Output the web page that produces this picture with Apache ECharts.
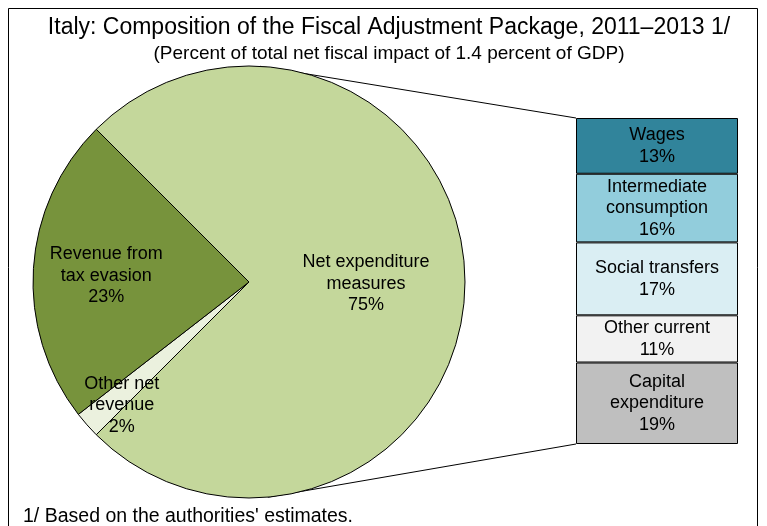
<!DOCTYPE html>
<html>
<head>
<meta charset="utf-8">
<script src="https://cdn.jsdelivr.net/npm/echarts@6/dist/echarts.min.js"></script>
<style>
  html, body { margin: 0; padding: 0; background: #fff; }
  #chart { width: 767px; height: 526px; }
</style>
</head>
<body>
<div id="chart"></div>
<script>
// Main pie: composition of the package (percent of total net fiscal impact)
const pieNames = ['Net expenditure\nmeasures', 'Other net\nrevenue', 'Revenue from\ntax evasion'];
const pieValues = [75, 2, 23];
const pieColors = ['#c4d79b', '#ebf1de', '#77933c'];

// Breakdown of net expenditure measures
const barNames = ['Wages', 'Intermediate\nconsumption', 'Social transfers', 'Other current', 'Capital\nexpenditure'];
const barValues = [13, 16, 17, 11, 19];
const barColors = ['#31849b', '#92cddc', '#daeef3', '#f2f2f2', '#bfbfbf'];

const FONT = '"Liberation Sans", Arial, sans-serif';
const LABEL_SIZE = 18;

// Layout constants
const cx = 249, cy = 282, R = 216;
const box = { left: 576, top: 118, width: 162, height: 326 };

// label nudges for pie slices (pixels)
const pieLabelShift = [[6, 2], [-44, 50], [-32, 1]];

const barTotal = barValues.reduce((a, b) => a + b, 0);

const pieData = pieNames.map((n, i) => ({
  name: n,
  value: pieValues[i],
  itemStyle: { color: pieColors[i] }
}));

const barSeries = barNames.map((n, i) => ({
  type: 'bar',
  name: n,
  stack: 'exp',
  barWidth: '100%',
  data: [barValues[i]],
  itemStyle: { color: barColors[i], borderColor: '#000', borderWidth: 1 },
  label: {
    show: true,
    position: 'inside',
    formatter: p => p.seriesName + '\n' + p.value + '%',
    color: '#000',
    fontFamily: FONT,
    fontSize: LABEL_SIZE,
    lineHeight: 21.5
  },
  silent: true
}));

// connector lines from the pie to the breakdown box
const topPt = [cx + R * Math.cos(87 * Math.PI / 180), cy - R * Math.sin(87 * Math.PI / 180)];
const botPt = [cx + R * Math.cos(-85 * Math.PI / 180), cy - R * Math.sin(-85 * Math.PI / 180)];

const chart = echarts.init(document.getElementById('chart'), null, { renderer: 'canvas' });
chart.setOption({
  animation: false,
  backgroundColor: '#fff',
  title: [{
    text: 'Italy: Composition of the Fiscal Adjustment Package, 2011–2013 1/',
    subtext: '(Percent of total net fiscal impact of 1.4 percent of GDP)',
    left: 384,
    textAlign: 'center',
    top: 11,
    itemGap: 5,
    textStyle: { fontFamily: FONT, fontSize: 23, fontWeight: 'normal', color: '#000' },
    subtextStyle: { fontFamily: FONT, fontSize: 19, color: '#000' }
  }, {
    text: "1/ Based on the authorities' estimates.",
    left: 23,
    top: 507,
    padding: 0,
    textStyle: { fontFamily: FONT, fontSize: 19.5, fontWeight: 'normal', color: '#000' }
  }],
  grid: { left: box.left, top: box.top, width: box.width, height: box.height },
  xAxis: { type: 'category', data: ['Net expenditure'], show: false },
  yAxis: { type: 'value', min: 0, max: barTotal, inverse: true, show: false },
  series: [{
    type: 'pie',
    center: [cx, cy],
    radius: R,
    startAngle: 135,
    clockwise: true,
    silent: true,
    data: pieData,
    itemStyle: { borderColor: '#000', borderWidth: 1 },
    label: {
      show: true,
      position: 'inside',
      formatter: p => p.name + '\n' + p.value + '%',
      color: '#000',
      fontFamily: FONT,
      fontSize: LABEL_SIZE,
      lineHeight: 21.5
    },
    labelLine: { show: false },
    labelLayout: p => ({ dx: pieLabelShift[p.dataIndex][0], dy: pieLabelShift[p.dataIndex][1] })
  }].concat(barSeries),
  graphic: [
    {
      type: 'rect',
      shape: { x: 8.5, y: 8.5, width: 749, height: 530 },
      style: { fill: 'none', stroke: '#000', lineWidth: 1 },
      silent: true
    },
    {
      type: 'line',
      shape: { x1: topPt[0], y1: topPt[1], x2: box.left, y2: box.top },
      style: { stroke: '#000', lineWidth: 1 },
      silent: true
    },
    {
      type: 'line',
      shape: { x1: botPt[0], y1: botPt[1], x2: box.left, y2: box.top + box.height },
      style: { stroke: '#000', lineWidth: 1 },
      silent: true
    }
  ]
});
</script>
</body>
</html>
